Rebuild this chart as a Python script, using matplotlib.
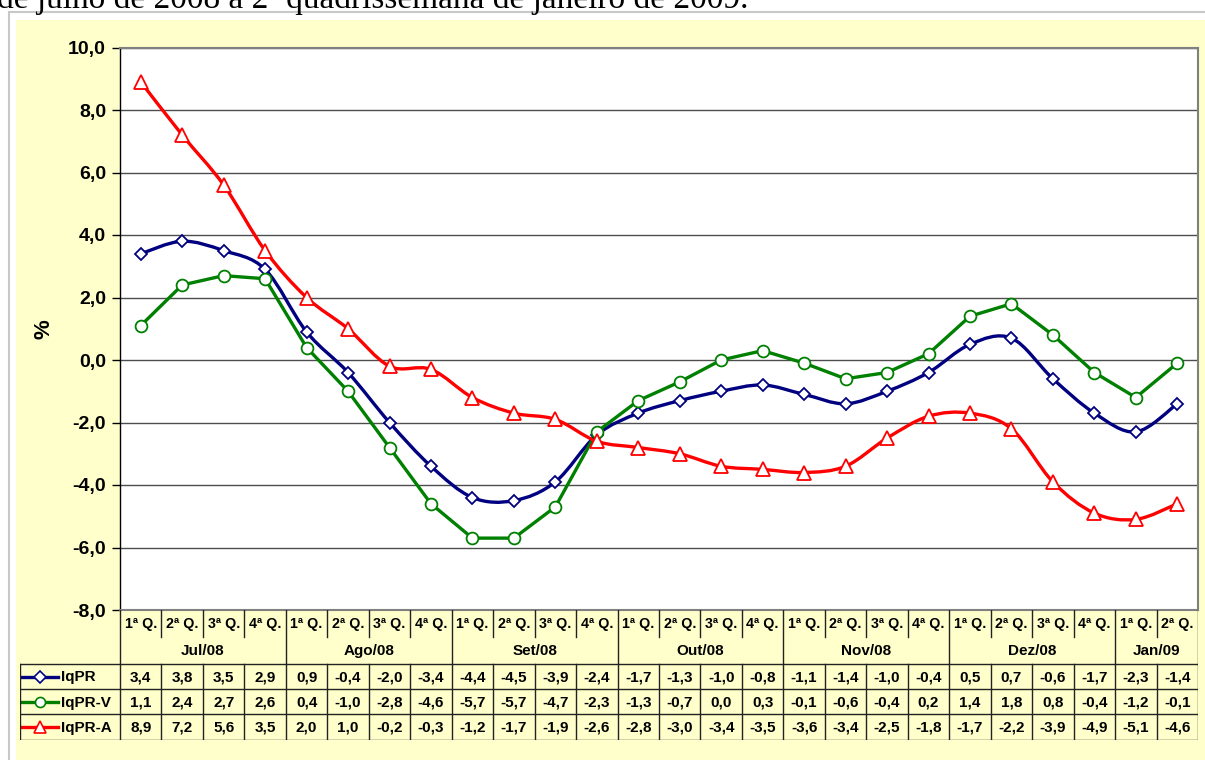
import numpy as np
import matplotlib
matplotlib.use('Agg')
import matplotlib.pyplot as plt
from matplotlib.path import Path
from matplotlib.patches import PathPatch, Rectangle
from matplotlib.lines import Line2D

# data
quarters = ["1ª Q.", "2ª Q.", "3ª Q.", "4ª Q."] * 6 + ["1ª Q.", "2ª Q."]
months = ["Jul/08", "Ago/08", "Set/08", "Out/08", "Nov/08", "Dez/08", "Jan/09"]
month_len = [4, 4, 4, 4, 4, 4, 2]

iqpr = [3.4, 3.8, 3.5, 2.9, 0.9, -0.4, -2.0, -3.4, -4.4, -4.5, -3.9, -2.4,
        -1.7, -1.3, -1.0, -0.8, -1.1, -1.4, -1.0, -0.4, 0.5, 0.7, -0.6, -1.7,
        -2.3, -1.4]
iqpr_v = [1.1, 2.4, 2.7, 2.6, 0.4, -1.0, -2.8, -4.6, -5.7, -5.7, -4.7, -2.3,
          -1.3, -0.7, 0.0, 0.3, -0.1, -0.6, -0.4, 0.2, 1.4, 1.8, 0.8, -0.4,
          -1.2, -0.1]
iqpr_a = [8.9, 7.2, 5.6, 3.5, 2.0, 1.0, -0.2, -0.3, -1.2, -1.7, -1.9, -2.6,
          -2.8, -3.0, -3.4, -3.5, -3.6, -3.4, -2.5, -1.8, -1.7, -2.2, -3.9, -4.9,
          -5.1, -4.6]

series = [
    ("IqPR", iqpr, "#000080", "D", 6.6, True),
    ("IqPR-V", iqpr_v, "#008000", "o", 8.5, False),
    ("IqPR-A", iqpr_a, "#FF0000", "^", 9.5, True),
]

W, H = 1205, 760
YELLOW = "#FFFFCC"
FONT = "Liberation Sans"


def px(x0, y0, x1, y1):
    # pixel box (top-left origin) -> figure fraction rect
    return [x0 / W, 1 - y1 / H, (x1 - x0) / W, (y1 - y0) / H]


def smooth_path(xs, ys):
    # excel style smoothed line drawn as cubic bezier segments
    pts = np.column_stack([xs, ys]).astype(float)
    n = len(pts)
    verts = [pts[0]]
    codes = [Path.MOVETO]
    for i in range(n - 1):
        p0 = pts[i - 1] if i > 0 else pts[i]
        p1, p2 = pts[i], pts[i + 1]
        p3 = pts[i + 2] if i + 2 < n else pts[i + 1]
        verts += [p1 + (p2 - p0) / 6, p2 - (p3 - p1) / 6, p2]
        codes += [Path.CURVE4] * 3
    return Path(verts, codes)


fig = plt.figure(figsize=(W / 100, H / 100), dpi=100)
fig.patch.set_facecolor("white")

# outer chart frame
bg = fig.add_axes(px(0, 0, W, H))
bg.set_xlim(0, W)
bg.set_ylim(H, 0)
bg.axis("off")
bg.add_patch(Rectangle((9, 12), W, H, facecolor="white", edgecolor="#C8C8C8", lw=1.5))
bg.add_patch(Rectangle((16, 20), W, H, facecolor=YELLOW, edgecolor="none"))
bg.text(-3, 8, "de julho de 2008 a 2ª quadrissemana de janeiro de 2009.",
        family="Liberation Serif", fontsize=24, va="baseline", ha="left")

# plot area
ax = fig.add_axes(px(120, 47.5, 1198, 610))
x = np.arange(len(iqpr))
for name, vals, col, mk, ms, smooth in series:
    if smooth:
        ax.add_patch(PathPatch(smooth_path(x, vals), fill=False, edgecolor=col,
                               lw=2.4, zorder=3, capstyle="round", joinstyle="round"))
    else:
        ax.plot(x, vals, color=col, lw=2.4, zorder=3)
    ax.plot(x, vals, ls="none", marker=mk, ms=ms, mfc="white", mec=col, mew=1.3, zorder=4)

ax.set_xlim(-0.5, len(iqpr) - 0.5)
ax.set_ylim(-8, 10)
yt = np.arange(-8, 11, 2)
ax.set_yticks(yt)
ax.set_yticklabels([f"{v:.1f}".replace(".", ",") for v in yt],
                   family=FONT, fontweight="bold", fontsize=14)
ax.set_xticks([])
ax.tick_params(axis="y", length=6, width=1, pad=4)
ax.grid(axis="y", color="#4d4d4d", lw=1)
ax.set_axisbelow(True)
for s in ["top", "right", "bottom"]:
    ax.spines[s].set_color("#808080")
    ax.spines[s].set_linewidth(1.5)
ax.spines["left"].set_color("black")
ax.spines["left"].set_linewidth(1)
ax.set_ylabel("%", family=FONT, fontweight="bold", fontsize=16, labelpad=10)

# data table below the plot, columns share the plot's x units
unit = 1078 / len(iqpr)
left = -0.5 - 100 / unit
tab = fig.add_axes(px(20, 610, 1198, 740))
tab.set_xlim(left, len(iqpr) - 0.5)
tab.set_ylim(130, 0)
tab.axis("off")
rows = [0, 27, 54, 79, 104, 130]
lc = "#222222"
tfs = 11

# header rows
for i, q in enumerate(quarters):
    tab.text(i, 14, q, ha="center", va="center", family=FONT, fontweight="bold", fontsize=10.3)
start = 0
for m, n in zip(months, month_len):
    tab.text(start + n / 2 - 0.5, 41, m, ha="center", va="center",
             family=FONT, fontweight="bold", fontsize=tfs)
    for j in range(1, n):
        tab.plot([start + j - 0.5] * 2, [0, 27], color=lc, lw=1)
    tab.plot([start - 0.5] * 2, [0, 54], color=lc, lw=1)
    start += n
tab.plot([len(iqpr) - 0.5] * 2, [0, 54], color=lc, lw=1)

# data rows
for r, (name, vals, col, mk, ms, smooth) in enumerate(series):
    yc = (rows[r + 2] + rows[r + 3]) / 2
    for i, v in enumerate(vals):
        tab.text(i, yc + 1, f"{v:.1f}".replace(".", ","), ha="center", va="center",
                 family=FONT, fontweight="bold", fontsize=tfs)
    x0 = left + 2 / unit
    x1 = left + 38 / unit
    tab.add_line(Line2D([x0, x1], [yc, yc], color=col, lw=2.4))
    tab.plot([(x0 + x1) / 2], [yc], marker=mk, ms=ms * 0.85, mfc="white", mec=col, mew=1.2)
    tab.text(left + 41 / unit, yc + 1, name, ha="left", va="center",
             family=FONT, fontweight="bold", fontsize=tfs)
for yy in rows[2:]:
    tab.plot([left, len(iqpr) - 0.5], [yy, yy], color=lc, lw=1)
for xx in np.arange(-0.5, len(iqpr), 1):
    tab.plot([xx, xx], [54, 130], color=lc, lw=1)
tab.plot([left, left], [54, 130], color=lc, lw=1)
for a in (ax, tab):
    for t in a.texts:
        t.set_clip_on(False)

fig.savefig("out.png", dpi=100)
